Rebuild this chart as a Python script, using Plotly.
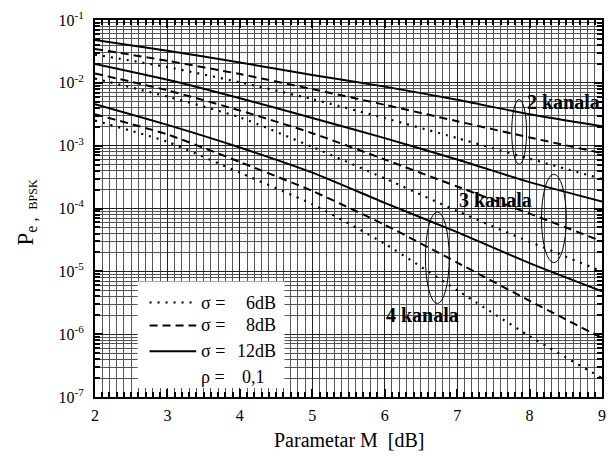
import plotly.graph_objects as go

# ---------------- data ----------------
M_dB = [2, 3, 4, 5, 6, 7, 8, 9]

# 2 channels
pe_2k_s6 = [0.0282, 0.0178, 0.0102, 0.0055, 0.00275, 0.00132, 0.00062, 0.000295]
pe_2k_s8 = [0.0347, 0.0224, 0.0138, 0.00794, 0.00447, 0.00245, 0.00135, 0.00076]
pe_2k_s12 = [0.0479, 0.0324, 0.0211, 0.0133, 0.0087, 0.00537, 0.00316, 0.00204]
# 3 channels
pe_3k_s6 = [0.0117, 0.00603, 0.00282, 0.000955, 0.000302, 9.1e-5, 2.95e-5, 1.0e-5]
pe_3k_s8 = [0.0141, 0.00759, 0.00363, 0.00158, 0.000603, 0.000224, 8.3e-5, 3.0e-5]
pe_3k_s12 = [0.0200, 0.0112, 0.00569, 0.00275, 0.00132, 0.000603, 0.000263, 0.000129]
# 4 channels
pe_4k_s6 = [0.00251, 0.00115, 0.000372, 0.000117, 2.75e-5, 5.0e-6, 9.3e-7, 2.0e-7]
pe_4k_s8 = [0.00316, 0.00151, 0.00055, 0.00019, 5.5e-5, 1.38e-5, 3.4e-6, 8.7e-7]
pe_4k_s12 = [0.00457, 0.00214, 0.000933, 0.000372, 0.000123, 4.2e-5, 1.35e-5, 4.8e-6]

y_tick_vals = [1e-7, 1e-6, 1e-5, 1e-4, 1e-3, 1e-2, 1e-1]
y_tick_text = ["10<sup>-7</sup>", "10<sup>-6</sup>", "10<sup>-5</sup>", "10<sup>-4</sup>",
               "10<sup>-3</sup>", "10<sup>-2</sup>", "10<sup>-1</sup>"]
x_tick_vals = [2, 3, 4, 5, 6, 7, 8, 9]

legend_labels = ["6dB", "8dB", "12dB"]
rho_label = "0,1"
group_labels = ["2 kanala", "3 kanala", "4 kanala"]

# ---------------- styles ----------------
SERIF = "Liberation Serif"
DOT = "2px,6px"
DASH = "8px,5px"
styles = {6: DOT, 8: DASH, 12: "solid"}

series = [
    (pe_2k_s6, 6), (pe_2k_s8, 8), (pe_2k_s12, 12),
    (pe_3k_s6, 6), (pe_3k_s8, 8), (pe_3k_s12, 12),
    (pe_4k_s6, 6), (pe_4k_s8, 8), (pe_4k_s12, 12),
]

fig = go.Figure()
for vals, sig in series:
    fig.add_trace(go.Scatter(
        x=M_dB, y=vals, mode="lines",
        line=dict(color="black", width=2 if sig != 6 else 2.2, dash=styles[sig],
                  shape="spline", smoothing=0.6),
        showlegend=False, hoverinfo="skip"))

# plot area in pixels: x 95..606, y 18..397
L, R, T, B = 95, 606, 18, 397
W, H = 615, 457


def xp(px):
    return (px - L) / (R - L)


def yp(py):
    return (B - py) / (B - T)


shapes = []
# legend white box
shapes.append(dict(type="rect", xref="paper", yref="paper",
                   x0=xp(138), x1=xp(286), y0=yp(388), y1=yp(281),
                   fillcolor="white", line=dict(width=0), layer="above"))
# legend samples
for py, d in zip([302, 325, 351], [DOT, DASH, "solid"]):
    shapes.append(dict(type="line", xref="paper", yref="paper",
                       x0=xp(150), x1=xp(197), y0=yp(py), y1=yp(py),
                       line=dict(color="black", width=2, dash=d), layer="above"))
# ellipses
for (x0, x1, y0, y1) in [(515, 530, 98, 163), (545, 570, 173, 262), (428, 452, 211, 303)]:
    shapes.append(dict(type="circle", xref="paper", yref="paper",
                       x0=xp(x0), x1=xp(x1), y0=yp(y1), y1=yp(y0),
                       line=dict(color="black", width=1), layer="above"))

annotations = []
for py, lab in zip([302, 325, 351], legend_labels):
    annotations.append(dict(xref="paper", yref="paper", x=xp(200), y=yp(py),
                            text="σ =", showarrow=False, xanchor="left", yanchor="middle",
                            font=dict(family=SERIF, size=18, color="black")))
    annotations.append(dict(xref="paper", yref="paper", x=xp(279), y=yp(py),
                            text=lab, showarrow=False, xanchor="right", yanchor="middle",
                            font=dict(family=SERIF, size=18, color="black")))
annotations.append(dict(xref="paper", yref="paper", x=xp(200), y=yp(377),
                        text="ρ =", showarrow=False, xanchor="left", yanchor="middle",
                        font=dict(family=SERIF, size=18, color="black")))
annotations.append(dict(xref="paper", yref="paper", x=xp(268), y=yp(377),
                        text=rho_label, showarrow=False, xanchor="right", yanchor="middle",
                        font=dict(family=SERIF, size=18, color="black")))

for (cx, cy), lab in zip([(567, 100), (499, 199), (425, 315)], group_labels):
    annotations.append(dict(xref="paper", yref="paper", x=xp(cx), y=yp(cy),
                            text="<b>" + lab + "</b>", showarrow=False,
                            xanchor="center", yanchor="middle",
                            font=dict(family=SERIF, size=20, color="black")))

# y title
annotations.append(dict(xref="paper", yref="paper", x=xp(26), y=yp(212),
                        text="P<sub>e ,  <span style='font-size:12px'>BPSK</span></sub>",
                        textangle=-90, showarrow=False, xanchor="center", yanchor="middle",
                        font=dict(family=SERIF, size=23, color="black")))
# x title
annotations.append(dict(xref="paper", yref="paper", x=xp(352), y=yp(440),
                        text="Parametar M  [dB]", showarrow=False,
                        xanchor="center", yanchor="middle",
                        font=dict(family=SERIF, size=20, color="black")))

fig.update_layout(
    width=W, height=H,
    margin=dict(l=L, r=W - R, t=T, b=H - B, pad=0),
    paper_bgcolor="white", plot_bgcolor="white",
    shapes=shapes, annotations=annotations,
    showlegend=False,
    font=dict(family=SERIF, size=16, color="black"),
)

fig.update_xaxes(
    range=[2, 9], tickmode="array", tickvals=x_tick_vals,
    ticks="inside", ticklen=8, tickwidth=1.5, tickcolor="black",
    showline=True, linewidth=2, linecolor="black", mirror="allticks",
    showgrid=True, gridcolor="#222", gridwidth=1,
    tickfont=dict(family=SERIF, size=16, color="black"),
    ticklabelstandoff=3,
    minor=dict(dtick=0.1, tick0=2, ticks="inside", ticklen=5, tickcolor="black",
               showgrid=True, gridcolor="#555", gridwidth=0.8),
    zeroline=False,
)
fig.update_yaxes(
    type="log", range=[-7, -1], tickmode="array", tickvals=y_tick_vals, ticktext=y_tick_text,
    ticks="inside", ticklen=8, tickwidth=1.5, tickcolor="black",
    showline=True, linewidth=2, linecolor="black", mirror="allticks",
    showgrid=True, gridcolor="#222", gridwidth=1,
    tickfont=dict(family=SERIF, size=16, color="black"),
    ticklabelstandoff=6,
    minor=dict(dtick="D1", ticks="inside", ticklen=5, tickcolor="black",
               showgrid=True, gridcolor="#555", gridwidth=0.8),
    zeroline=False,
)

fig.write_html("out.html")
